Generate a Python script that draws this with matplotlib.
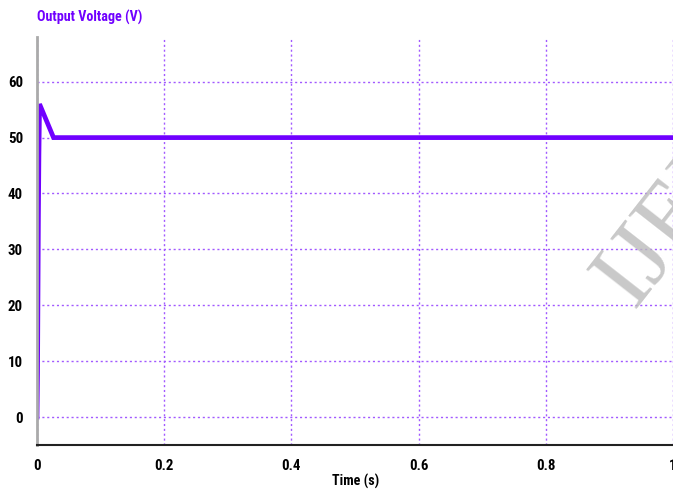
import matplotlib
matplotlib.use("Agg")
import matplotlib.pyplot as plt
from matplotlib import font_manager

time_s = [0.0, 0.0008, 0.0015, 0.0022, 0.003, 0.004, 0.026, 0.1, 0.3, 0.5, 0.7, 0.9, 1.0]
voltage_v = [0.0, 8.0, 22.0, 36.0, 47.0, 56.0, 50.0, 50.0, 50.0, 50.0, 50.0, 50.0, 50.0]
x_ticks = [0, 0.2, 0.4, 0.6, 0.8, 1]
x_tick_labels = ["0", "0.2", "0.4", "0.6", "0.8", "1"]
y_ticks = [0, 10, 20, 30, 40, 50, 60]
y_tick_labels = ["0", "10", "20", "30", "40", "50", "60"]

names = {f.name for f in font_manager.fontManager.ttflist}
main_font = 'Liberation Sans'
for cand in ['Roboto Condensed', 'Archivo Narrow', 'PT Sans Narrow',
             'Open Sans Condensed', 'IBM Plex Sans Condensed']:
    if cand in names:
        main_font = cand
        break
plt.rcParams['font.family'] = [main_font, 'DejaVu Sans']

fig = plt.figure(figsize=(6.73, 4.90), dpi=100)
renderer = fig.canvas.get_renderer()


def fit_size(s, target_px, base=12):
    t = fig.text(0, 0, s, fontsize=base, fontweight='bold')
    w = t.get_window_extent(renderer).width
    t.remove()
    return base * target_px / w


tick_fs = min(fit_size("60", 15), 13)
title_fs = min(fit_size("Output Voltage (V)", 106), 13)
xlabel_fs = min(fit_size("Time (s)", 47), 13)

ax = fig.add_axes([37/673, 1-445/490, 1-37/673, (445-37)/490])

ax.plot(time_s, voltage_v, color='#7000FF', lw=3.4, solid_joinstyle='miter')
ax.set_xlim(0, 1.0)
ax.set_ylim(-5, 68)
ax.set_xticks(x_ticks)
ax.set_xticklabels(x_tick_labels)
ax.set_yticks(y_ticks)
ax.set_yticklabels(y_tick_labels)
ax.tick_params(length=0, labelsize=tick_fs)
ax.tick_params(axis='x', pad=10)
ax.tick_params(axis='y', pad=10)
for lab in ax.get_xticklabels() + ax.get_yticklabels():
    lab.set_fontweight('bold')
ax.grid(True, color='#A259FF', linestyle=(0, (1.5, 2)), lw=1.0)
ax.spines['top'].set_visible(False)
ax.spines['right'].set_visible(False)
ax.spines['left'].set_color('#AAAAAA')
ax.spines['left'].set_linewidth(2)
ax.spines['bottom'].set_color('#222222')
ax.spines['bottom'].set_linewidth(1.5)

fig.text(37/673, 1-17.5/490, "Output Voltage (V)", color='#7000FF', fontweight='bold',
         fontsize=title_fs, ha='left', va='center')
fig.text(356/673, 1-481/490, "Time (s)", color='black', fontweight='bold',
         fontsize=xlabel_fs, ha='center', va='center')

fig.text(580/673, 1-300/490, "IJERT", rotation=52, color='#BBBBBB', alpha=0.8,
         fontsize=70, family='Liberation Serif', ha='left', va='baseline')

fig.savefig("out.png", dpi=100)
